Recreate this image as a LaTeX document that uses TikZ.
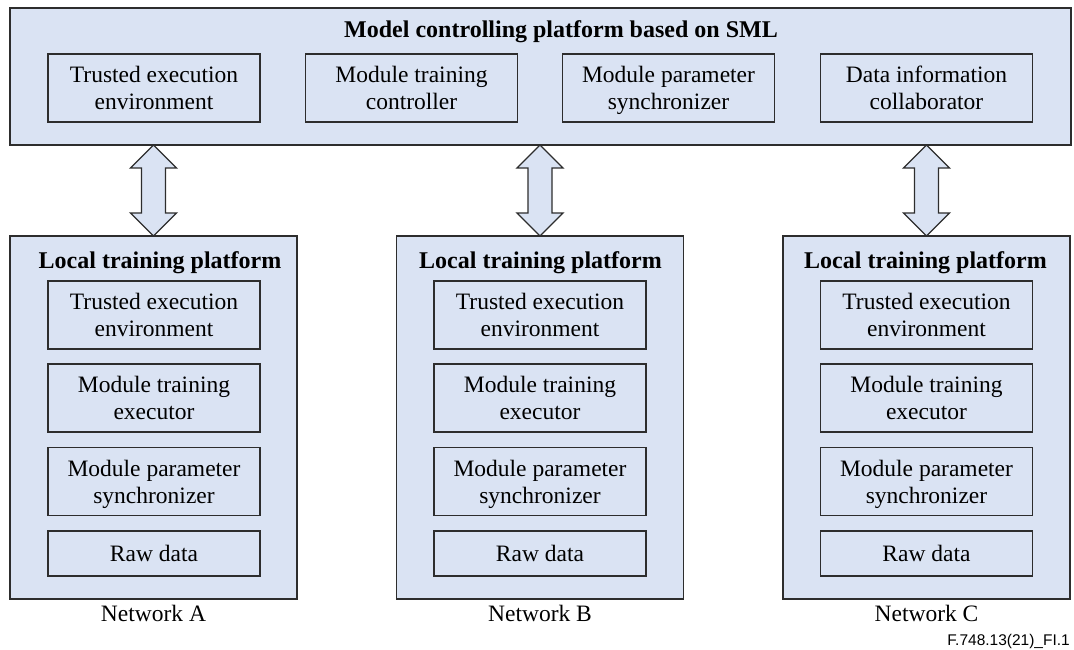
\documentclass[tikz,border=0pt]{standalone}
\usepackage{fontspec}
\setmainfont{Liberation Serif}
\newfontfamily\labelsans{Liberation Sans}
\definecolor{panelfill}{RGB}{218,227,243}
\definecolor{edge}{RGB}{45,45,45}
\begin{document}
\begin{tikzpicture}[x=1pt,y=-1pt,
  panel/.style={draw=edge, fill=panelfill, line width=1.3pt, inner sep=0pt, outer sep=0pt},
  unit/.style={panel, minimum width=212pt, minimum height=68pt, align=center,
    font=\fontsize{23.5}{27}\selectfont},
  heading/.style={font=\fontsize{24}{28}\selectfont\bfseries, anchor=base, inner sep=0pt},
  netlabel/.style={font=\fontsize{23.5}{27}\selectfont, anchor=base, inner sep=0pt},
  link/.style={draw=edge, fill=panelfill, line width=1.3pt, line join=miter}
]
\useasboundingbox (0,0) rectangle (1074,650);

% central platform
\node[panel, minimum width=1061pt, minimum height=137pt] (sml) at (540.5,76.5) {};
\node[heading] (smltitle) at (561,38) {Model controlling platform based on SML};
\node[unit] (ctee) at (154,88) {Trusted execution\\environment};
\node[unit] (ctrl) at (411.5,88) {Module training\\controller};
\node[unit] (csync) at (668.5,88) {Module parameter\\\smash{synchronizer}};
\node[unit] (ccollab) at (926.5,88) {Data information\\collaborator};

% local platforms, one per network
\foreach \cx/\ix/\tx/\net in {153.5/154/160/A, 540/540/540.5/B, 926.5/926.5/925.5/C} {
  \node[panel, minimum width=287pt, minimum height=363pt] (local\net) at (\cx,417.5) {};
  \node[heading] (title\net) at (\tx,268) {Local training platform};
  \node[unit] (tee\net) at (\ix,315) {Trusted execution\\environment};
  \node[unit] (exec\net) at (\ix,398) {Module training\\executor};
  \node[unit] (sync\net) at (\ix,481.5) {Module parameter\\\smash{synchronizer}};
  \node[unit, minimum height=45pt] (raw\net) at (\ix,553.5) {Raw data};
  \node[netlabel] (net\net) at (\cx,621) {Network \net};
  % double-headed block arrow between the platforms
  \draw[link] (sml.south -| local\net.north) -- ++(23,23) -- ++(-11,0) -- ++(0,45)
    -- ++(11,0) -- (local\net.north) -- ++(-23,-23) -- ++(11,0) -- ++(0,-45)
    -- ++(-11,0) -- cycle;
}

\node[font=\labelsans\fontsize{15.5}{18}\selectfont, anchor=base east, inner sep=0pt]
  (figref) at (1070,645) {F.748.13(21)\_FI.1};
\end{tikzpicture}
\end{document}
